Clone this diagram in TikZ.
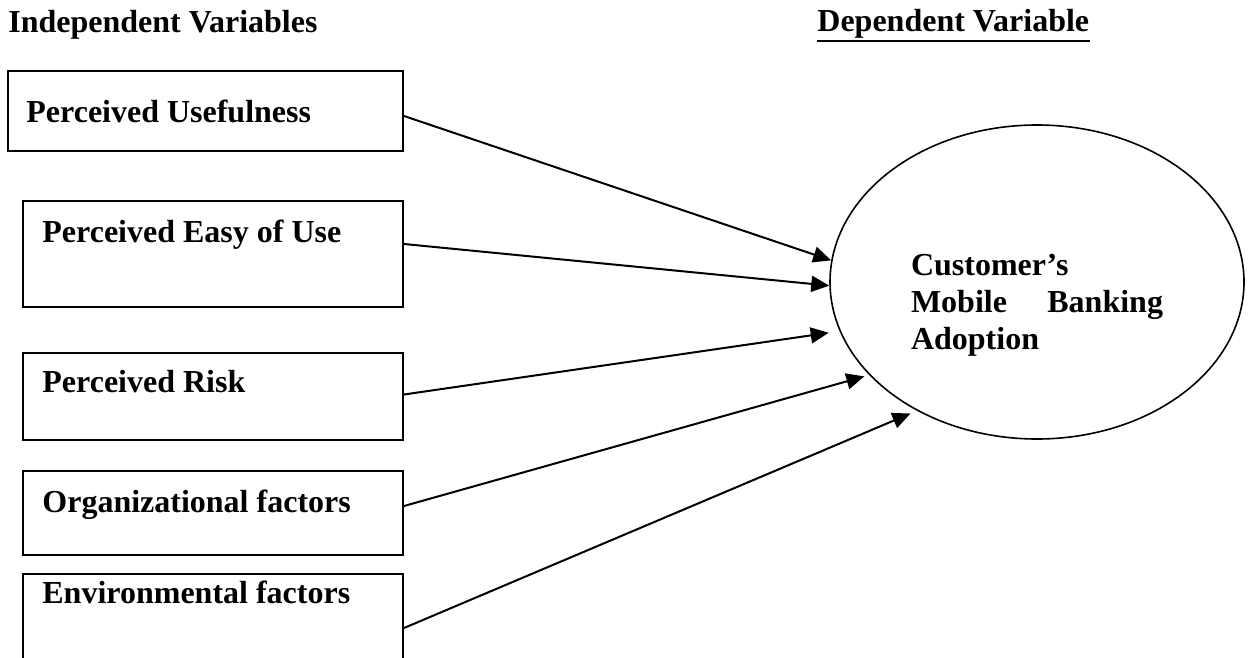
\documentclass[tikz,border=0pt]{standalone}
\usepackage{fontspec}
\setmainfont{Liberation Serif}
\usetikzlibrary{arrows.meta,shapes.geometric}

\begin{document}
\begin{tikzpicture}[x=0.5pt,y=-0.5pt,
    varbox/.style={draw,line width=1pt,anchor=north west,inner sep=0pt},
    txt/.style={font=\fontsize{16pt}{18.5pt}\selectfont\bfseries,anchor=base west,inner sep=0pt},
    arr/.style={-{Triangle[length=9pt,width=8pt]},line width=1pt}]
      \useasboundingbox (0,0) rectangle (1252,658);
      \clip (0,0) rectangle (1252,658);
      \node[txt] (iv) at (8,33) {Independent Variables};
      \node[txt] (dv) at (817,32) {Dependent Variable};
      \draw[line width=1.1pt] ([yshift=-0.8pt]dv.south west) -- ([yshift=-0.8pt]dv.south east);
      \node[varbox,minimum width=197.5pt,minimum height=40pt] (pu) at (7,70) {};
      \node[varbox,minimum width=190pt,minimum height=53pt] (peou) at (22,200) {};
      \node[varbox,minimum width=190pt,minimum height=43.5pt] (pr) at (22,352) {};
      \node[varbox,minimum width=190pt,minimum height=42pt] (orgf) at (22,470) {};
      \node[varbox,minimum width=190pt,minimum height=54pt] (envf) at (22,573) {};
      \node[txt] (pu-t) at (26,122) {Perceived Usefulness};
      \node[txt] (peou-t) at (42,242) {Perceived Easy of Use};
      \node[txt] (pr-t) at (42,392) {Perceived Risk};
      \node[txt] (orgf-t) at (42,512) {Organizational factors};
      \node[txt] (envf-t) at (42,603) {Environmental factors};
      \node[draw,ellipse,line width=0.8pt,minimum width=207pt,minimum height=157pt,inner sep=0pt] (adopt) at (1037,282) {};
      \node[txt,anchor=north,text width=126pt,align=left] (adopt-t) at (1037,254) {Customer's\\Mobile\hfill Banking\\Adoption};
      \draw[arr] ([yshift=-2.5pt]pu.east) -- (adopt.174);
      \draw[arr] ([yshift=5pt]peou.east) -- (adopt.181);
      \draw[arr,shorten >=5.5pt] ([yshift=1pt]pr.east) -- (adopt.194);
      \draw[arr,shorten >=2.5pt] ([yshift=3.5pt]orgf.east) -- (adopt.209);
      \draw[arr,shorten >=3.5pt] (envf.east) -- (adopt.227);
     \end{tikzpicture}
\end{document}
